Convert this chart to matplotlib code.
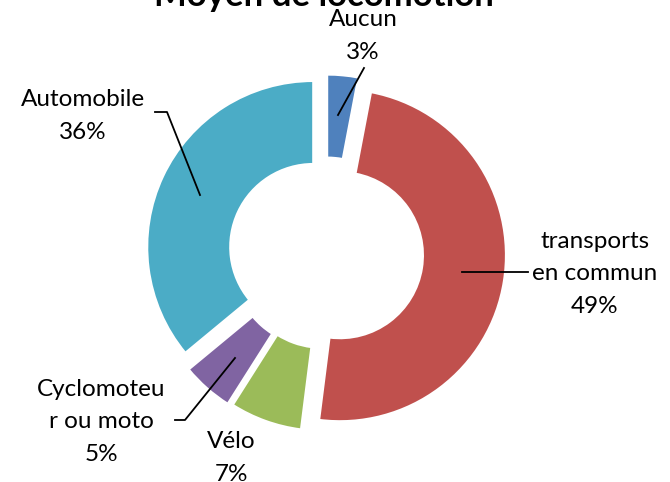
#!/usr/local/bin/python3

import pandas as pd
import matplotlib.pyplot as plt
import numpy as np

# configurations
plt.style.use("ggplot")
plt.rcParams["font.family"] = ["Lato", "DejaVu Sans"]


# chart for the means of transport

def gen_pie(df):
    fig = plt.figure(figsize=(6.7, 4.82), dpi=100)
    ax1 = fig.add_axes([0, 0, 1, 1])
    R = 166.0  # radius in pixels
    cx, cy = 326.0, 253.0  # centre in pixels (y from top)
    ax1.pie(df["part"], colors=df["couleur"], explode=df["explode"],
            startangle=90, counterclock=False,
            wedgeprops=dict(width=0.5, edgecolor="white", linewidth=1.5),
            radius=1.0, frame=True)
    ax1.set_xlim(-cx / R, (670 - cx) / R)
    ax1.set_ylim(-(482 - cy) / R, cy / R)
    ax1.set_aspect("auto")
    ax1.axis("off")

    def px(x, y):
        return ((x - cx) / R, (cy - y) / R)

    # labels with leader lines
    for lab, (tx, ty), pts in zip(df["label"], df["pos"], df["ligne"]):
        ax1.text(*px(tx, ty), lab, ha="center", va="center", fontsize=17.5,
                 color="black", linespacing=1.65)
        if pts:
            xs, ys = zip(*[px(a, b) for a, b in pts])
            ax1.plot(xs, ys, color="black", linewidth=1.3)

    ax1.text(*px(324, 6), "Moyen de locomotion", ha="center", va="baseline",
             fontsize=25, fontweight="bold", color="black")
    return fig


df = pd.DataFrame({
    "label": ["Aucun\n3%", "transports\nen commun\n49%", "Vélo\n7%",
              "Cyclomoteu\nr ou moto\n5%", "Automobile\n36%"],
    "part": [3, 49, 7, 5, 36],
    "couleur": ["#4F81BD", "#C0504D", "#9BBB59", "#8064A2", "#4BACC6"],
    "explode": [0.075, 0.085, 0.075, 0.085, 0.085],
    "pos": [(363, 36), (595, 274), (231, 458), (101, 422), (83, 116)],
    "ligne": [[(338, 115), (364, 68)], [(462, 272), (528, 272)], [],
              [(235, 358), (185, 420), (175, 420)],
              [(200, 195), (167, 112), (155, 112)]],
})


# produce charts

fig = gen_pie(df)
fig.savefig("out.png", dpi=100)
